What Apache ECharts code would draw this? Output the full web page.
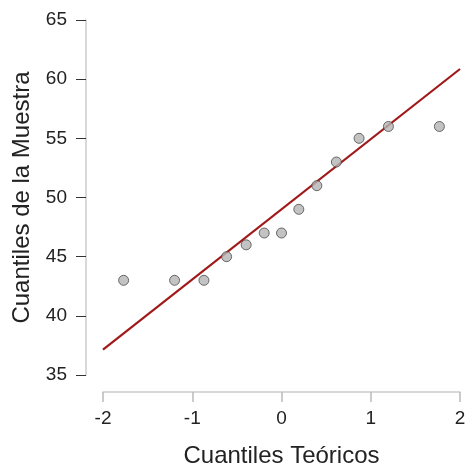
<!DOCTYPE html>
<html>
<head>
<meta charset="utf-8">
<script src="https://cdn.jsdelivr.net/npm/echarts@6/dist/echarts.min.js"></script>
<style>
html,body{margin:0;padding:0;background:#fff;}
#chart{width:467px;height:467px;}
</style>
</head>
<body>
<div id="chart"></div>
<script>
// Data
var theoreticalQuantiles = [-1.769, -1.198, -0.869, -0.615, -0.396, -0.194, 0, 0.194, 0.396, 0.615, 0.869, 1.198, 1.769];
var sampleQuantiles = [43, 43, 43, 45, 46, 47, 47, 49, 51, 53, 55, 56, 56];
var refLineX = [-2, 2];
var refLineY = [37.14, 60.86];
var xTicks = [-2, -1, 0, 1, 2];
var yTicks = [35, 40, 45, 50, 55, 60, 65];

var font = 'Liberation Sans, Arial, sans-serif';
var chart = echarts.init(document.getElementById('chart'), null, {renderer: 'canvas'});
chart.setOption({
  animation: false,
  backgroundColor: '#ffffff',
  grid: {left: 103, right: 7, top: 20, bottom: 92, containLabel: false, outerBoundsMode: 'none'},
  xAxis: {
    type: 'value', min: xTicks[0], max: xTicks[xTicks.length - 1], interval: 1,
    offset: 17,
    name: 'Cuantiles Teóricos', nameLocation: 'middle', nameGap: 52,
    nameTextStyle: {fontFamily: font, fontSize: 24, color: '#222'},
    axisLine: {show: true, onZero: false, lineStyle: {color: '#cccccc', width: 1.5}},
    axisTick: {show: true, length: 10, lineStyle: {color: '#bbbbbb', width: 1.5}},
    axisLabel: {fontFamily: font, fontSize: 19, color: '#222', margin: 17},
    splitLine: {show: false}
  },
  yAxis: {
    type: 'value', min: yTicks[0], max: yTicks[yTicks.length - 1], interval: 5,
    offset: 17,
    name: 'Cuantiles de la Muestra', nameLocation: 'middle', nameGap: 52, nameRotate: 90,
    nameTextStyle: {fontFamily: font, fontSize: 24, color: '#222'},
    axisLine: {show: true, onZero: false, lineStyle: {color: '#cccccc', width: 1.5}},
    axisTick: {show: true, length: 10, lineStyle: {color: '#333333', width: 1}},
    axisLabel: {fontFamily: font, fontSize: 19, color: '#222', margin: 19},
    splitLine: {show: false}
  },
  series: [
    {
      type: 'line',
      data: refLineX.map(function (x, i) { return [x, refLineY[i]]; }),
      showSymbol: false,
      lineStyle: {color: '#a01818', width: 2.2},
      z: 2
    },
    {
      type: 'scatter',
      data: theoreticalQuantiles.map(function (x, i) { return [x, sampleQuantiles[i]]; }),
      symbol: 'circle',
      symbolSize: 10,
      itemStyle: {color: '#b4b4b4', borderColor: '#4a4a4a', borderWidth: 1},
      z: 3
    }
  ]
});
</script>
</body>
</html>
